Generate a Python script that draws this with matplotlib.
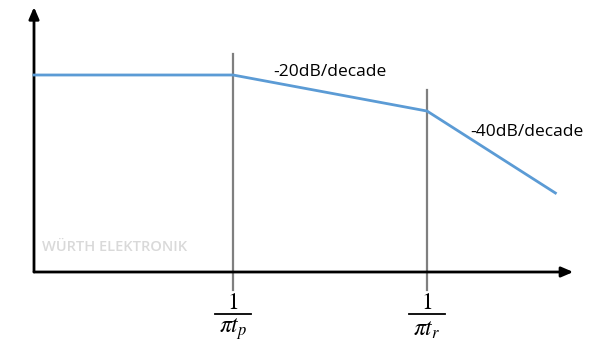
import matplotlib.pyplot as plt

plt.rcParams['mathtext.fontset'] = 'stix'

# Asymptotic Bode magnitude plot (x: decades, y: dB-like units)
freq = [0.0, 1.0, 1.975, 2.62]
gain = [100.0, 100.0, 81.7, 40.1]
corners = [1.0, 1.975]
corner_tops = [110.7, 92.4]
corner_labels = [r'$\pi t_p$', r'$\pi t_r$']
slope_labels = ['-20dB/decade', '-40dB/decade']
slope_pos = [(1.2, 101.5), (2.19, 71.0)]

blue = '#5b9bd5'
grey = '#7f7f7f'

fig = plt.figure(figsize=(6.11, 3.42), dpi=100)
ax = fig.add_axes([0, 0, 1, 1])
ax.set_xlim(-34 / 199, (611 - 34) / 199)
ax.set_ylim(-(342 - 272) / 1.97, 272 / 1.97)
ax.axis('off')

# axes with arrow heads
arrow = dict(arrowstyle='-|>,head_length=0.7,head_width=0.3', color='black', lw=2,
             shrinkA=0, shrinkB=0)
ax.annotate('', xy=(0, 134.5), xytext=(0, 0), arrowprops=arrow)
ax.annotate('', xy=(2.71, 0), xytext=(0, 0), arrowprops=arrow)

# corner frequency markers
for xc, top, lab in zip(corners, corner_tops, corner_labels):
    ax.plot([xc, xc], [-9.1, top], color=grey, lw=1.6, zorder=2)
    ax.text(xc, -15.0, r'$1$', ha='center', va='center', fontsize=17)
    ax.plot([xc - 0.09, xc + 0.09], [-21.3, -21.3], color='black', lw=1.3)
    ax.text(xc, -28.8, lab, ha='center', va='center', fontsize=17)

ax.plot(freq, gain, color=blue, lw=2, zorder=3)

for txt, (x, y) in zip(slope_labels, slope_pos):
    ax.text(x, y, txt, ha='left', va='center', fontsize=12.5, family='Open Sans')

ax.text(0.04, 12.5, 'WÜRTH ELEKTRONIK', ha='left', va='center', fontsize=10.5,
        fontweight='semibold', color='#d9d9d9', family='Open Sans')

fig.savefig('out.png', dpi=100)
